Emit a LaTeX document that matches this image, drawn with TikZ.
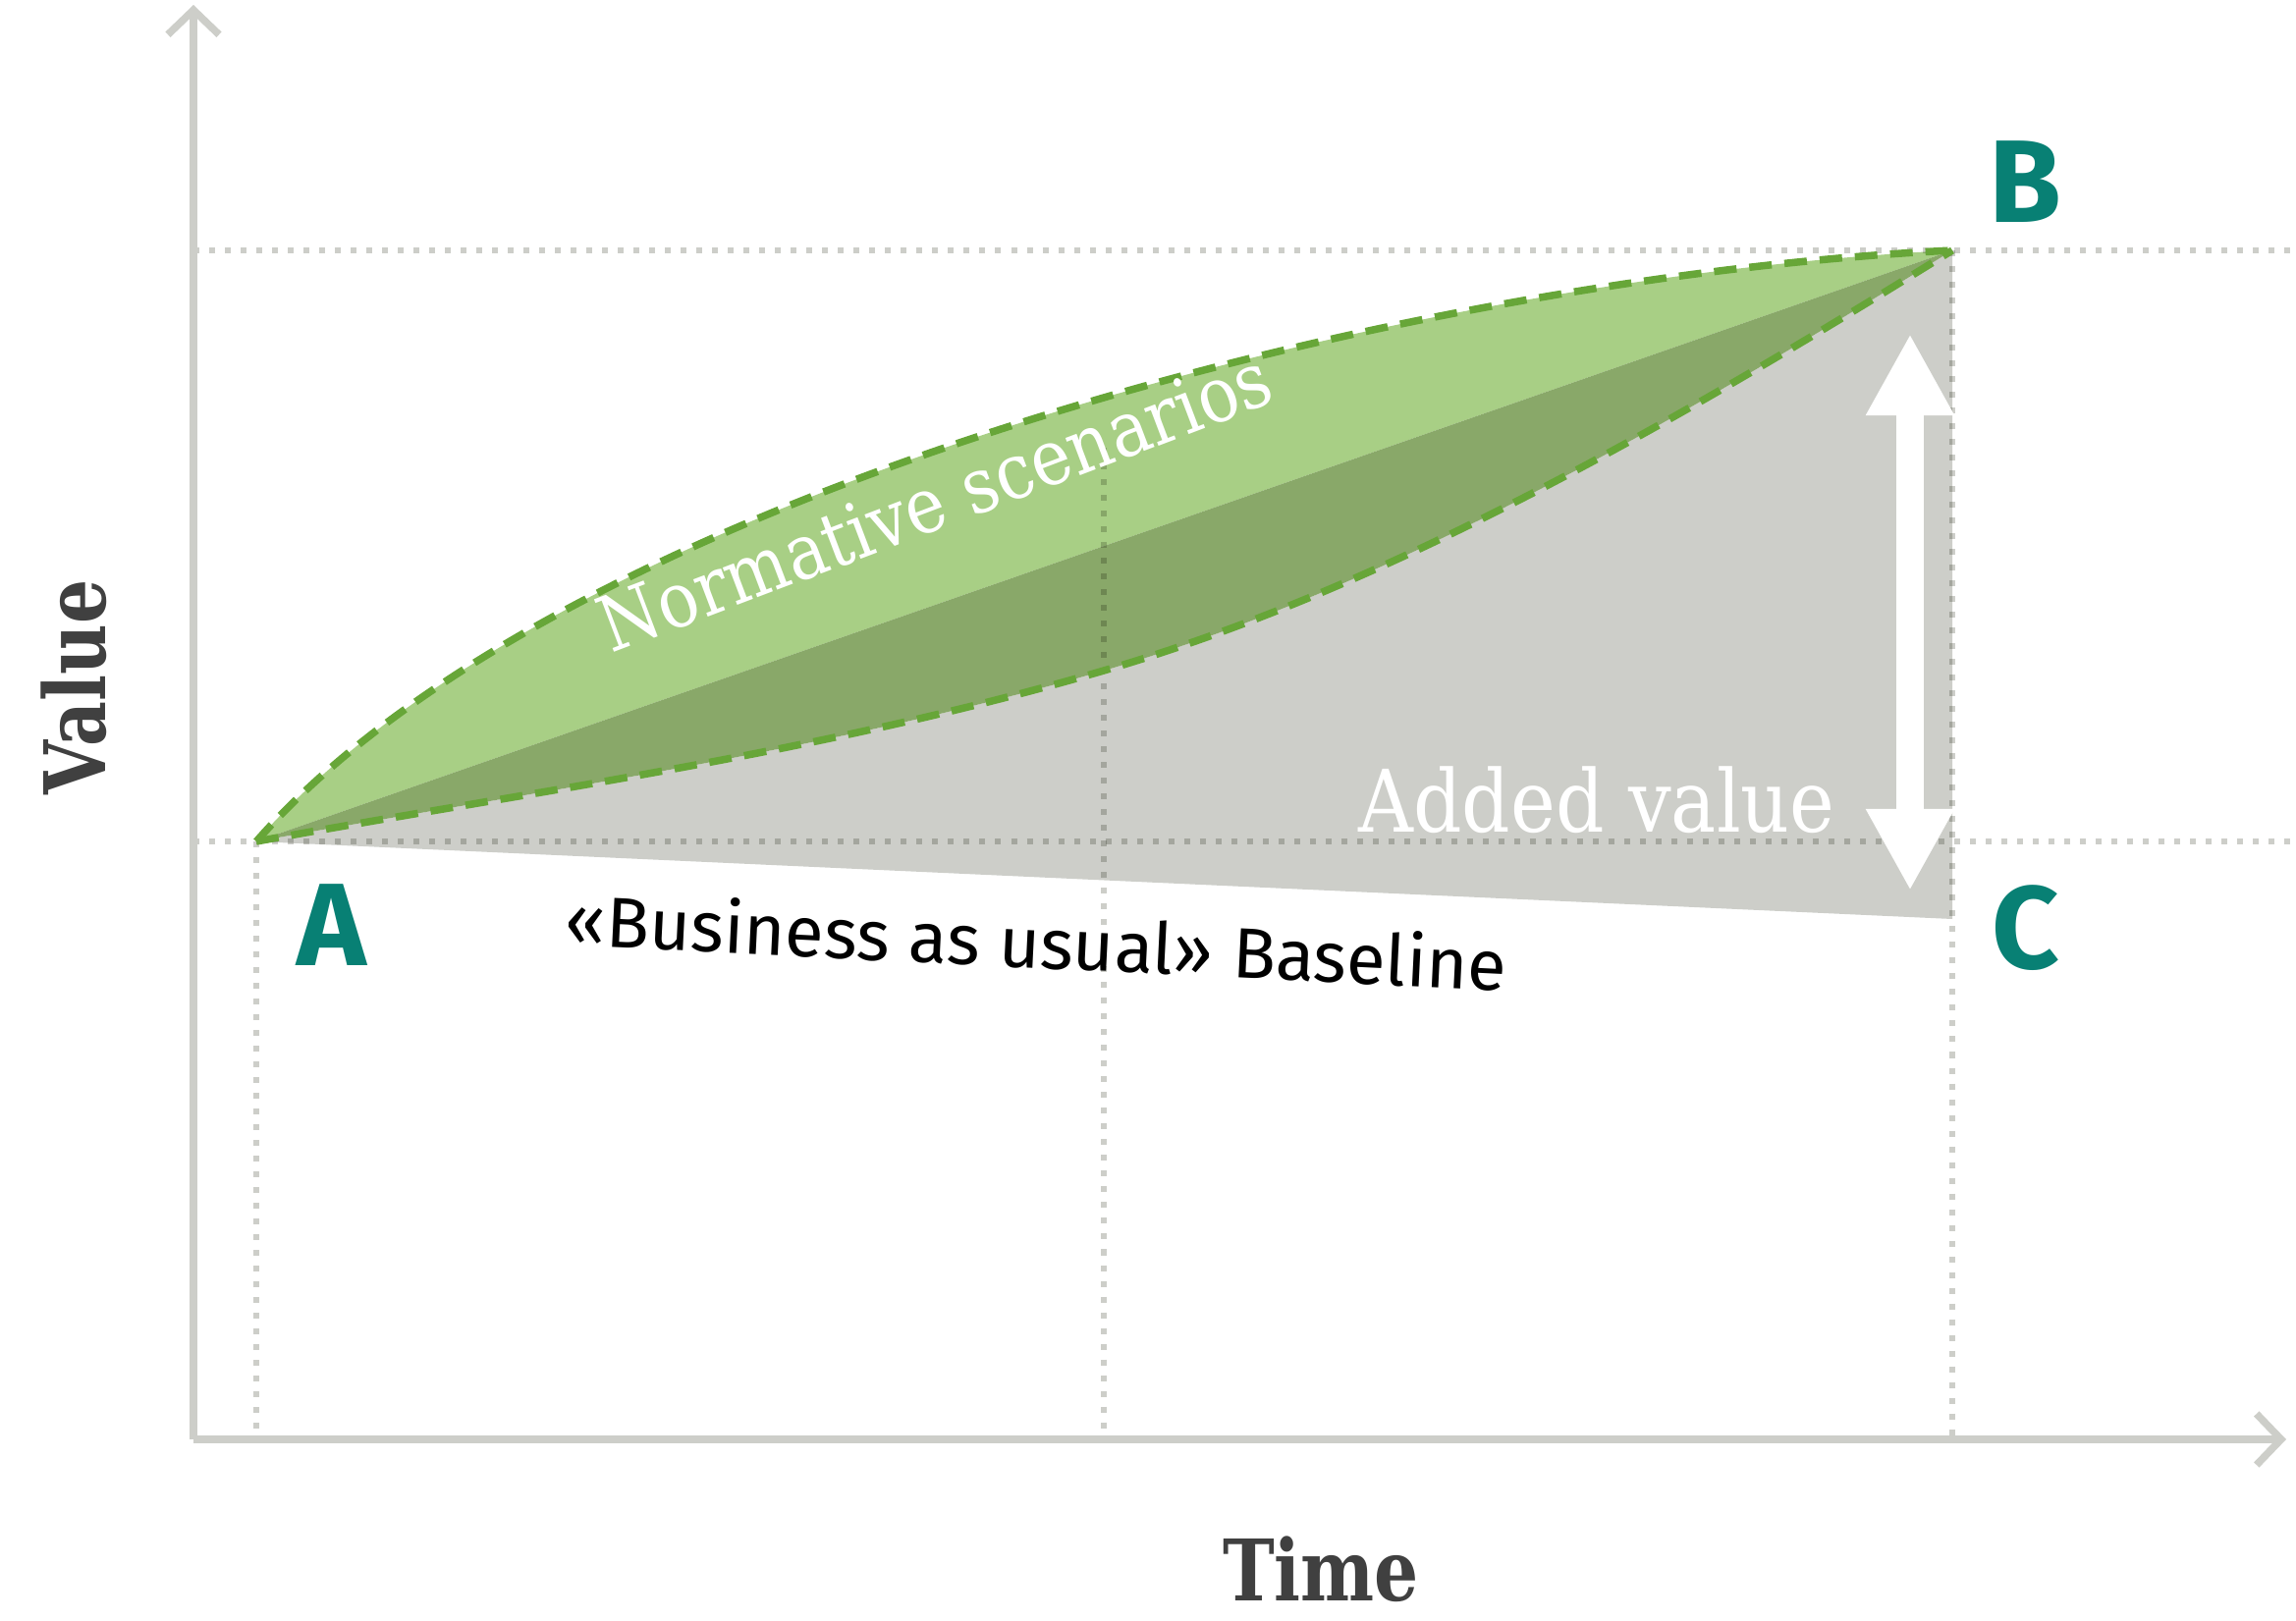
\documentclass[tikz,border=0pt]{standalone}
\usepackage{fontspec}
\usepackage{tikz}
\usetikzlibrary{arrows.meta}

\setmainfont{DejaVu Serif}
\newfontfamily\slabfont{DejaVu Serif}[FakeStretch=0.88]
\newfontfamily\slabbold{DejaVu Serif}[FakeStretch=0.82]
\newfontfamily\dinfont{Fira Sans}

\definecolor{axisgray}{RGB}{205,206,201}
\definecolor{basegray}{RGB}{205,206,201}
\definecolor{lightleaf}{RGB}{168,207,133}
\definecolor{darkleaf}{RGB}{137,168,105}
\definecolor{dashleaf}{RGB}{103,166,56}
\definecolor{teal}{RGB}{8,128,116}
\definecolor{inkgray}{RGB}{64,64,64}

\tikzset{
  axisline/.style={draw=axisgray, line width=0.075cm, -{Straight Barb[length=0.25cm,width=0.52cm]}},
  guide/.style={draw=axisgray, line width=0.06cm, dash pattern=on 0.06cm off 0.1cm},
  scenario/.style={draw=dashleaf, line width=0.075cm, dash pattern=on 0.23cm off 0.13cm},
  letter/.style={text=teal, font=\dinfont\bfseries\fontsize{34pt}{40pt}\selectfont},
  axislabel/.style={text=inkgray, font=\slabbold\bfseries\fontsize{24.6pt}{30pt}\selectfont},
  whitelabel/.style={text=white, anchor=base, font=\slabfont\fontsize{#1}{30pt}\selectfont}
}

\begin{document}
\begin{tikzpicture}[x=0.01cm,y=-0.01cm]
\useasboundingbox (0,0) rectangle (2338,1651);

\coordinate (O) at (197,1466);
\coordinate (ytip) at (197,5);
\coordinate (xtip) at (2328,1466);
\coordinate (A) at (261,857);
\coordinate (B) at (1988,255);
\coordinate (C) at (1988,936);
\coordinate (M) at (1124,683);
\coordinate (mid) at (1124,456);
\coordinate (up) at (1945,340);
\coordinate (dn) at (1945,907);

\fill[basegray] (A) .. controls (549,805) and (836,767) .. (M) .. controls (1412,599) and (1700,434) .. (B) -- (C) -- cycle;
\fill[lightleaf] (A) .. controls (567,507) and (1416,283) .. (B) -- cycle;
\fill[darkleaf] (A) -- (B) .. controls (1700,434) and (1412,599) .. (M) .. controls (836,767) and (549,805) .. (A);

\begin{scope}[blend mode=multiply]
\draw[guide] (O |- B) -- (2333,255);
\draw[guide] (O |- A) -- (2333,857);
\draw[guide] (A) -- (A |- O);
\draw[guide] (mid) -- (mid |- O);
\draw[guide] (B) -- (B |- O);
\end{scope}

\draw[axisline] (O) -- (ytip);
\draw[axisline] (O) -- (xtip);

\draw[scenario] (A) .. controls (567,507) and (1416,283) .. (B);
\draw[scenario] (A) .. controls (549,805) and (836,767) .. (M) .. controls (1412,599) and (1700,434) .. (B);

\draw[white, line width=0.28cm, {Triangle[width=0.84cm,length=0.83cm]}-{Triangle[width=0.84cm,length=0.83cm]}] (up) -- (dn);

\node[whitelabel=22.3pt, rotate=20.8] (norm) at (962,537) {Normative scenarios};
\node[whitelabel=25pt] (added) at (1626,847) {Added value};
\node[anchor=base, rotate=-2.8, font=\dinfont\fontsize{20.6pt}{24pt}\selectfont] (bau) at (1054,986) {«Business as usual» Baseline};

\node[letter] (labA) at (338,942) {A};
\node[letter] (labB) at (2062,185) {B};
\node[letter] (labC) at (2063,945) {C};

\node[axislabel, rotate=90] (value) at (75,700) {Value};
\node[axislabel] (time) at (1345,1598) {Time};
\end{tikzpicture}
\end{document}
